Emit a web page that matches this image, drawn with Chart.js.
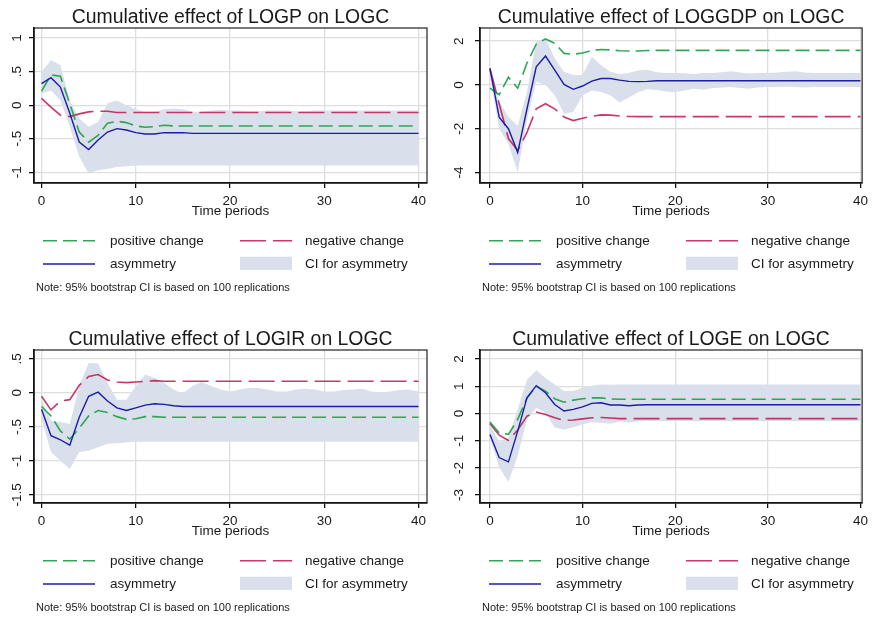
<!DOCTYPE html>
<html>
<head>
<meta charset="utf-8">
<script src="https://cdn.jsdelivr.net/npm/chart.js@4.4.0/dist/chart.umd.min.js"></script>
<style>
  body { margin: 0; background: #fff; }
  #wrap { position: relative; width: 873px; height: 619px; overflow: hidden; }
  canvas { position: absolute; }
</style>
</head>
<body>
<div id="wrap">
  <canvas id="c1" width="436" height="310" style="left:0;top:0;width:436px;height:310px"></canvas>
  <canvas id="c2" width="437" height="310" style="left:436px;top:0;width:437px;height:310px"></canvas>
  <canvas id="c3" width="436" height="297" style="left:0;top:322px;width:436px;height:297px"></canvas>
  <canvas id="c4" width="437" height="297" style="left:436px;top:322px;width:437px;height:297px"></canvas>
</div>
<script>
// horizon and axis ticks
const periods = [0,1,2,3,4,5,6,7,8,9,10,11,12,13,14,15,16,17,18,19,20,
  21,22,23,24,25,26,27,28,29,30,31,32,33,34,35,36,37,38,39,40];
const xTicks = [0, 10, 20, 30, 40];

const seriesLabels = ['positive change', 'negative change', 'asymmetry', 'CI for asymmetry'];
const noteText = 'Note: 95% bootstrap CI is based on 100 replications';

// LOGP on LOGC
const posP = [0.21,0.45,0.43,0.02,-0.40,-0.55,-0.45,-0.27,-0.24,-0.26,-0.31,-0.33,-0.32,-0.30,-0.31,-0.31,-0.31,-0.31,-0.31,-0.31,-0.31,
  -0.31,-0.31,-0.31,-0.31,-0.31,-0.31,-0.31,-0.31,-0.31,-0.31,-0.31,-0.31,-0.31,-0.31,-0.31,-0.31,-0.31,-0.31,-0.31,-0.31];
const negP = [0.10,-0.03,-0.15,-0.17,-0.13,-0.10,-0.09,-0.09,-0.11,-0.11,-0.11,-0.11,-0.11,-0.11,-0.11,-0.11,-0.11,-0.11,-0.11,-0.11,-0.11,
  -0.11,-0.11,-0.11,-0.11,-0.11,-0.11,-0.11,-0.11,-0.11,-0.11,-0.11,-0.11,-0.11,-0.11,-0.11,-0.11,-0.11,-0.11,-0.11,-0.11];
const asymP = [0.32,0.41,0.27,-0.12,-0.55,-0.66,-0.52,-0.40,-0.35,-0.37,-0.41,-0.43,-0.43,-0.41,-0.41,-0.41,-0.42,-0.42,-0.42,-0.42,-0.42,
  -0.42,-0.42,-0.42,-0.42,-0.42,-0.42,-0.42,-0.42,-0.42,-0.42,-0.42,-0.42,-0.42,-0.42,-0.42,-0.42,-0.42,-0.42,-0.42,-0.42];
const ciLowP = [0.17,0.22,0.07,-0.32,-0.77,-1.02,-0.97,-0.95,-0.92,-0.91,-0.90,-0.90,-0.90,-0.90,-0.90,-0.90,-0.90,-0.90,-0.90,-0.90,-0.90,
  -0.90,-0.90,-0.90,-0.90,-0.90,-0.90,-0.90,-0.90,-0.90,-0.90,-0.90,-0.90,-0.90,-0.90,-0.90,-0.90,-0.90,-0.90,-0.90,-0.90];
const ciUpP = [0.50,0.67,0.60,0.07,-0.20,-0.32,-0.25,0.03,0.07,0.00,-0.06,-0.10,-0.10,-0.06,-0.05,-0.06,-0.10,-0.10,-0.08,-0.07,-0.08,
  -0.08,-0.09,-0.09,-0.08,-0.08,-0.08,-0.09,-0.09,-0.08,-0.08,-0.08,-0.08,-0.08,-0.08,-0.08,-0.08,-0.08,-0.08,-0.08,-0.08];
const yTicksP = [-1, -0.5, 0, 0.5, 1];
const yLabelsP = ['-1', '-.5', '0', '.5', '1'];

// LOGGDP on LOGC
const posGDP = [-0.15,-0.45,0.35,-0.15,1.00,1.86,2.10,1.90,1.44,1.40,1.46,1.57,1.62,1.60,1.56,1.55,1.55,1.57,1.58,1.58,1.58,
  1.58,1.58,1.58,1.58,1.58,1.58,1.58,1.58,1.58,1.58,1.58,1.58,1.58,1.58,1.58,1.58,1.58,1.58,1.58,1.58];
const negGDP = [0.75,-0.86,-2.45,-3.00,-2.17,-1.09,-0.86,-1.09,-1.47,-1.63,-1.52,-1.43,-1.37,-1.38,-1.42,-1.44,-1.45,-1.45,-1.45,-1.45,-1.45,
  -1.45,-1.45,-1.45,-1.45,-1.45,-1.45,-1.45,-1.45,-1.45,-1.45,-1.45,-1.45,-1.45,-1.45,-1.45,-1.45,-1.45,-1.45,-1.45,-1.45];
const asymGDP = [0.75,-1.47,-2.00,-3.09,-1.10,0.83,1.32,0.68,0.02,-0.20,-0.05,0.17,0.29,0.29,0.22,0.16,0.15,0.16,0.19,0.19,0.19,
  0.19,0.19,0.19,0.19,0.19,0.19,0.19,0.19,0.19,0.19,0.19,0.19,0.19,0.19,0.19,0.19,0.19,0.19,0.19,0.19];
const ciLowGDP = [0.45,-2.00,-2.70,-4.00,-1.60,0.14,0.00,-0.47,-1.32,-1.24,-0.47,-0.25,-0.32,-0.47,-0.80,-0.57,-0.34,-0.20,-0.23,-0.30,-0.34,
  -0.25,-0.18,-0.22,-0.15,-0.12,-0.10,-0.14,-0.17,-0.12,-0.10,-0.10,-0.08,-0.10,-0.12,-0.10,-0.10,-0.10,-0.10,-0.10,-0.10];
const ciUpGDP = [0.90,-0.75,-1.47,-1.86,-0.32,1.98,2.13,1.21,0.60,0.45,0.45,1.29,0.90,0.60,0.50,0.55,0.66,0.69,0.58,0.55,0.55,
  0.53,0.50,0.55,0.55,0.58,0.62,0.57,0.52,0.55,0.55,0.57,0.60,0.62,0.57,0.55,0.55,0.55,0.55,0.55,0.55];
const yTicksGDP = [-4, -2, 0, 2];
const yLabelsGDP = ['-4', '-2', '0', '2'];

// LOGIR on LOGC
const posIR = [-0.20,-0.34,-0.56,-0.68,-0.52,-0.34,-0.26,-0.29,-0.35,-0.39,-0.38,-0.35,-0.35,-0.36,-0.36,-0.36,-0.36,-0.36,-0.36,-0.36,-0.36,
  -0.36,-0.36,-0.36,-0.36,-0.36,-0.36,-0.36,-0.36,-0.36,-0.36,-0.36,-0.36,-0.36,-0.36,-0.36,-0.36,-0.36,-0.36,-0.36,-0.36];
const negIR = [-0.05,-0.25,-0.12,-0.10,0.11,0.24,0.27,0.19,0.16,0.15,0.16,0.17,0.18,0.17,0.17,0.17,0.17,0.17,0.17,0.17,0.17,
  0.17,0.17,0.17,0.17,0.17,0.17,0.17,0.17,0.17,0.17,0.17,0.17,0.17,0.17,0.17,0.17,0.17,0.17,0.17,0.17];
const asymIR = [-0.24,-0.63,-0.69,-0.77,-0.36,-0.05,0.01,-0.12,-0.22,-0.26,-0.22,-0.18,-0.16,-0.17,-0.19,-0.20,-0.20,-0.20,-0.20,-0.20,-0.20,
  -0.20,-0.20,-0.20,-0.20,-0.20,-0.20,-0.20,-0.20,-0.20,-0.20,-0.20,-0.20,-0.20,-0.20,-0.20,-0.20,-0.20,-0.20,-0.20,-0.20];
const ciLowIR = [-0.39,-0.87,-1.00,-1.12,-0.87,-0.85,-0.80,-0.75,-0.74,-0.73,-0.72,-0.72,-0.72,-0.72,-0.72,-0.72,-0.72,-0.72,-0.72,-0.72,-0.72,
  -0.72,-0.72,-0.72,-0.72,-0.72,-0.72,-0.72,-0.72,-0.72,-0.72,-0.72,-0.72,-0.72,-0.72,-0.72,-0.72,-0.72,-0.72,-0.72,-0.72];
const ciUpIR = [-0.10,-0.41,-0.43,-0.46,0.10,0.44,0.43,0.15,-0.10,-0.10,0.10,0.27,0.22,0.15,0.05,-0.01,0.10,0.16,0.10,0.05,0.02,
  0.05,0.07,0.07,0.05,0.02,0.02,0.05,0.06,0.05,0.02,0.02,0.04,0.05,0.06,0.02,0.01,0.02,0.04,0.05,0.02];
const yTicksIR = [-1.5, -1, -0.5, 0, 0.5];
const yLabelsIR = ['-1.5', '-1', '-.5', '0', '.5'];

// LOGE on LOGC
const posE = [-0.32,-0.71,-0.77,-0.22,0.57,1.00,0.82,0.54,0.41,0.49,0.54,0.57,0.57,0.53,0.52,0.52,0.52,0.52,0.52,0.52,0.52,
  0.52,0.52,0.52,0.52,0.52,0.52,0.52,0.52,0.52,0.52,0.52,0.52,0.52,0.52,0.52,0.52,0.52,0.52,0.52,0.52];
const negE = [-0.37,-0.80,-0.99,-0.61,-0.10,0.05,-0.04,-0.16,-0.26,-0.24,-0.20,-0.16,-0.15,-0.17,-0.19,-0.19,-0.19,-0.19,-0.19,-0.19,-0.19,
  -0.19,-0.19,-0.19,-0.19,-0.19,-0.19,-0.19,-0.19,-0.19,-0.19,-0.19,-0.19,-0.19,-0.19,-0.19,-0.19,-0.19,-0.19,-0.19,-0.19];
const asymE = [-0.77,-1.62,-1.78,-0.65,0.57,1.02,0.76,0.33,0.09,0.15,0.24,0.37,0.39,0.31,0.31,0.28,0.31,0.32,0.32,0.32,0.32,
  0.32,0.32,0.32,0.32,0.32,0.32,0.32,0.32,0.32,0.32,0.32,0.32,0.32,0.32,0.32,0.32,0.32,0.32,0.32,0.32];
const ciLowE = [-0.89,-1.99,-2.51,-1.56,-0.22,0.21,0.02,-0.52,-0.59,-0.52,-0.40,-0.32,-0.34,-0.38,-0.30,-0.33,-0.30,-0.28,-0.28,-0.28,-0.28,
  -0.28,-0.28,-0.28,-0.28,-0.28,-0.28,-0.28,-0.28,-0.28,-0.28,-0.28,-0.28,-0.28,-0.28,-0.28,-0.28,-0.28,-0.28,-0.28,-0.28];
const ciUpE = [-0.40,-1.05,-0.89,0.15,1.24,1.59,1.30,1.06,0.82,0.82,0.94,1.02,1.06,1.05,1.06,1.06,1.06,1.06,1.06,1.06,1.06,
  1.06,1.06,1.06,1.06,1.06,1.06,1.06,1.06,1.06,1.06,1.06,1.06,1.06,1.06,1.06,1.06,1.06,1.06,1.06,1.06];
const yTicksE = [-3, -2, -1, 0, 1, 2];
const yLabelsE = ['-3', '-2', '-1', '0', '1', '2'];

const FONT = '"Liberation Sans", Arial, sans-serif';
const GREEN = 'rgba(24,158,68,0.9)';
const RED = 'rgba(188,22,78,0.85)';
const BLUE = '#1c1ca8';
const BAND = '#d9e0ec';

function toPoints(arr) {
  return periods.map((t, i) => ({ x: t, y: arr[i] }));
}

// titles, rotated y labels, axis title, legend and note
const stataDecor = {
  id: 'stataDecor',
  afterDraw(chart, args, opts) {
    const ctx = chart.ctx;
    const a = chart.chartArea;
    const yScale = chart.scales.y;
    ctx.save();

    // frame round the plot region
    ctx.strokeStyle = '#222';
    ctx.lineWidth = 1.2;
    ctx.strokeRect(a.left, a.top, a.right - a.left, a.bottom - a.top);

    ctx.fillStyle = '#1a1a1a';
    ctx.textAlign = 'center';
    ctx.font = '19.4px ' + FONT;
    ctx.fillText(opts.title, (a.left + a.right) / 2, a.top - 5.5);

    ctx.font = '13.5px ' + FONT;
    ctx.fillText('Time periods', (a.left + a.right) / 2, a.bottom + 32);

    opts.yTicks.forEach((v, i) => {
      const py = yScale.getPixelForValue(v);
      ctx.save();
      ctx.translate(a.left - opts.yLabelGap, py);
      ctx.rotate(-Math.PI / 2);
      ctx.fillText(opts.yLabels[i], 0, 0);
      ctx.restore();
    });

    // legend, two columns
    const ds = chart.data.datasets;
    const col = [a.left + 9, a.left + 206];
    const rows = [a.bottom + 57.7, a.bottom + 81];
    const items = [
      { d: ds[0], c: 0, r: 0 },
      { d: ds[1], c: 1, r: 0 },
      { d: ds[2], c: 0, r: 1 }
    ];
    items.forEach(it => {
      ctx.save();
      ctx.strokeStyle = it.d.borderColor;
      ctx.lineWidth = it.d.borderWidth;
      ctx.setLineDash(it.d.borderDash || []);
      ctx.beginPath();
      ctx.moveTo(col[it.c], rows[it.r]);
      ctx.lineTo(col[it.c] + 52, rows[it.r]);
      ctx.stroke();
      ctx.restore();
    });
    ctx.fillStyle = BAND;
    ctx.fillRect(col[1], rows[1] - 7.3, 52, 13.3);

    ctx.fillStyle = '#1a1a1a';
    ctx.textAlign = 'left';
    ctx.font = '13.5px ' + FONT;
    ctx.fillText(seriesLabels[0], col[0] + 67, rows[0] + 3.8);
    ctx.fillText(seriesLabels[1], col[1] + 65, rows[0] + 3.8);
    ctx.fillText(seriesLabels[2], col[0] + 67, rows[1] + 3.8);
    ctx.fillText(seriesLabels[3], col[1] + 65, rows[1] + 3.8);

    ctx.font = '11px ' + FONT;
    ctx.fillText(noteText, a.left + 2, a.bottom + 108);
    ctx.restore();
  }
};

function makePanel(id, title, pos, neg, asym, ciLow, ciUp, yTicks, yLabels, box) {
  const canvas = document.getElementById(id);
  const W = canvas.width, H = canvas.height;
  return new Chart(canvas.getContext('2d'), {
    type: 'line',
    data: {
      datasets: [
        { label: seriesLabels[0], data: toPoints(pos), borderColor: GREEN, borderWidth: 1.6,
          borderDash: [14, 6], pointRadius: 0, order: 1 },
        { label: seriesLabels[1], data: toPoints(neg), borderColor: RED, borderWidth: 1.6,
          borderDash: [26, 7], pointRadius: 0, order: 2 },
        { label: seriesLabels[2], data: toPoints(asym), borderColor: BLUE, borderWidth: 1.4,
          pointRadius: 0, order: 0 },
        { label: 'ci low', data: toPoints(ciLow), borderColor: 'rgba(0,0,0,0)', borderWidth: 0,
          pointRadius: 0, fill: false, order: 3 },
        { label: seriesLabels[3], data: toPoints(ciUp), borderColor: 'rgba(0,0,0,0)', borderWidth: 0,
          pointRadius: 0, backgroundColor: BAND, fill: 3, order: 4 }
      ]
    },
    options: {
      responsive: false,
      animation: false,
      events: [],
      layout: { padding: { left: 0, top: box.t, right: W - box.r, bottom: 0 } },
      plugins: {
        legend: { display: false },
        title: { display: false },
        tooltip: { enabled: false },
        stataDecor: { title: title, yTicks: yTicks, yLabels: yLabels, yLabelGap: box.gap }
      },
      scales: {
        x: {
          type: 'linear',
          min: box.xmin, max: box.xmax,
          afterBuildTicks: s => { s.ticks = xTicks.map(v => ({ value: v })); },
          afterFit: s => { s.height = H - box.b; },
          grid: { color: '#dedede', lineWidth: 1.3, tickLength: 5, tickColor: '#000', tickWidth: 1.2 },
          border: { display: true, color: '#000', width: 1.6 },
          ticks: { color: '#1a1a1a', font: { family: FONT, size: 13.5 }, padding: 5, maxRotation: 0,
            callback: v => String(v) }
        },
        y: {
          min: box.ymin, max: box.ymax,
          afterBuildTicks: s => { s.ticks = yTicks.map(v => ({ value: v })); },
          afterFit: s => { s.width = box.l; },
          grid: { color: '#dedede', lineWidth: 1.3, tickLength: 5, tickColor: '#000', tickWidth: 1.2 },
          border: { display: true, color: '#000', width: 1.6 },
          ticks: { color: 'rgba(0,0,0,0)', font: { family: FONT, size: 13.5 } }
        }
      }
    },
    plugins: [stataDecor]
  });
}

makePanel('c1', 'Cumulative effect of LOGP on LOGC', posP, negP, asymP, ciLowP, ciUpP, yTicksP, yLabelsP,
  { l: 34, t: 28, r: 427, b: 183, gap: 13.5, xmin: -0.8, xmax: 40.9, ymin: -1.16, ymax: 1.15 });
makePanel('c2', 'Cumulative effect of LOGGDP on LOGC', posGDP, negGDP, asymGDP, ciLowGDP, ciUpGDP, yTicksGDP, yLabelsGDP,
  { l: 44, t: 28, r: 430, b: 183, gap: 17, xmin: -1.07, xmax: 40.18, ymin: -4.48, ymax: 2.6 });
makePanel('c3', 'Cumulative effect of LOGIR on LOGC', posIR, negIR, asymIR, ciLowIR, ciUpIR, yTicksIR, yLabelsIR,
  { l: 34, t: 28, r: 427, b: 181, gap: 13.5, xmin: -0.8, xmax: 40.9, ymin: -1.62, ymax: 0.63 });
makePanel('c4', 'Cumulative effect of LOGE on LOGC', posE, negE, asymE, ciLowE, ciUpE, yTicksE, yLabelsE,
  { l: 44, t: 28, r: 430, b: 181, gap: 17, xmin: -1.07, xmax: 40.18, ymin: -3.29, ymax: 2.33 });
</script>
</body>
</html>
